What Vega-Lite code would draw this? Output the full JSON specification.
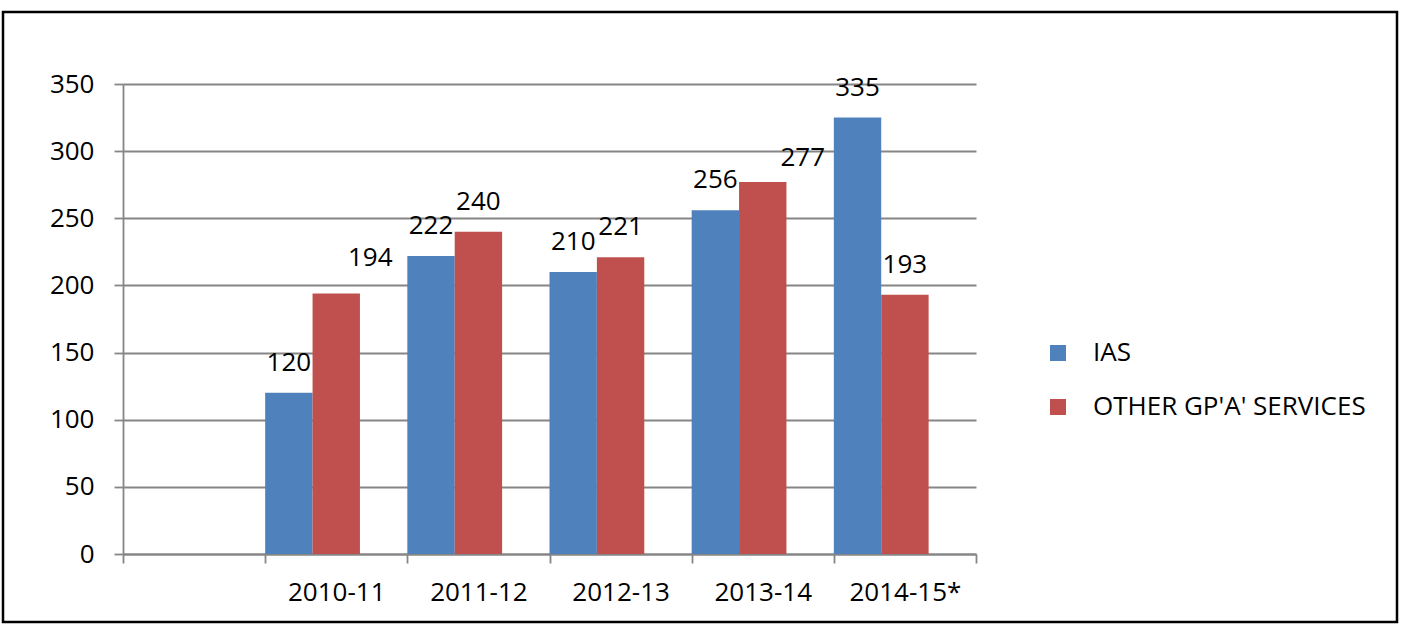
{
  "$schema": "https://vega.github.io/schema/vega-lite/v6.json",
  "autosize": "none",
  "width": 1394,
  "height": 610,
  "padding": {"left": 3, "top": 12, "right": 14, "bottom": 11},
  "background": "white",
  "data": {
    "values": [
      {"year": "2010-11", "series": "IAS", "value": 120, "label": "120"},
      {"year": "2011-12", "series": "IAS", "value": 222, "label": "222"},
      {"year": "2012-13", "series": "IAS", "value": 210, "label": "210"},
      {"year": "2013-14", "series": "IAS", "value": 256, "label": "256"},
      {"year": "2014-15*", "series": "IAS", "value": 325, "label": "335"},
      {"year": "2010-11", "series": "OTHER GP'A'  SERVICES", "value": 194, "label": "194"},
      {"year": "2011-12", "series": "OTHER GP'A'  SERVICES", "value": 240, "label": "240"},
      {"year": "2012-13", "series": "OTHER GP'A'  SERVICES", "value": 221, "label": "221"},
      {"year": "2013-14", "series": "OTHER GP'A'  SERVICES", "value": 277, "label": "277"},
      {"year": "2014-15*", "series": "OTHER GP'A'  SERVICES", "value": 193, "label": "193"}
    ]
  },
  "encoding": {
    "x": {
      "field": "year",
      "type": "nominal",
      "sort": null,
      "scale": {
        "domain": ["", "2010-11", "2011-12", "2012-13", "2013-14", "2014-15*"],
        "range": [120, 973],
        "paddingInner": 0,
        "paddingOuter": 0
      },
      "axis": {
        "title": null,
        "labelAngle": 0,
        "offset": -68,
        "tickBand": "extent",
        "tickSize": 9,
        "labelPadding": 16,
        "grid": false
      }
    },
    "xOffset": {
      "field": "series",
      "type": "nominal",
      "scale": {
        "domain": ["IAS", "OTHER GP'A'  SERVICES", "spare"],
        "paddingInner": 0,
        "paddingOuter": 0
      }
    },
    "y": {
      "field": "value",
      "type": "quantitative",
      "scale": {"domain": [0, 350], "range": [542, 72], "nice": false, "zero": true},
      "axis": {
        "title": null,
        "values": [0, 50, 100, 150, 200, 250, 300, 350],
        "offset": -120,
        "tickSize": 9,
        "labelPadding": 20,
        "grid": true
      }
    }
  },
  "layer": [
    {
      "mark": {"type": "bar", "stroke": null},
      "encoding": {
        "color": {
          "field": "series",
          "type": "nominal",
          "scale": {
            "domain": ["IAS", "OTHER GP'A'  SERVICES"],
            "range": ["#4F81BD", "#C0504D"]
          },
          "legend": {
            "title": null,
            "orient": "none",
            "legendX": 1042,
            "legendY": 328,
            "symbolType": "square",
            "symbolSize": 256,
            "symbolStrokeWidth": 0,
            "labelFontSize": 26,
            "labelOffset": 22,
            "labelLimit": 0,
            "rowPadding": 28,
            "padding": 0,
            "labelColor": "black"
          }
        }
      }
    },
    {
      "mark": {
        "type": "text",
        "baseline": "alphabetic",
        "align": "center",
        "fontSize": 26,
        "color": "black",
        "dx": {"expr": "datum.label == '194' ? 34 : (datum.label == '277' ? 40 : 0)"},
        "dy": {"expr": "datum.label == '194' ? -27 : (datum.label == '277' ? -16 : -22)"}
      },
      "encoding": {
        "text": {"field": "label", "type": "nominal"}
      }
    }
  ],
  "config": {
    "font": "Open Sans",
    "view": {"stroke": "black", "strokeWidth": 2.5, "fill": "white"},
    "axis": {
      "labelFontSize": 26,
      "labelColor": "black",
      "labelFont": "Open Sans",
      "domainColor": "#868686",
      "domainWidth": 1.8,
      "tickColor": "#868686",
      "tickWidth": 1.8,
      "gridColor": "#868686",
      "gridWidth": 1.8,
      "gridOpacity": 1
    },
    "legend": {"labelFont": "Open Sans"}
  }
}
